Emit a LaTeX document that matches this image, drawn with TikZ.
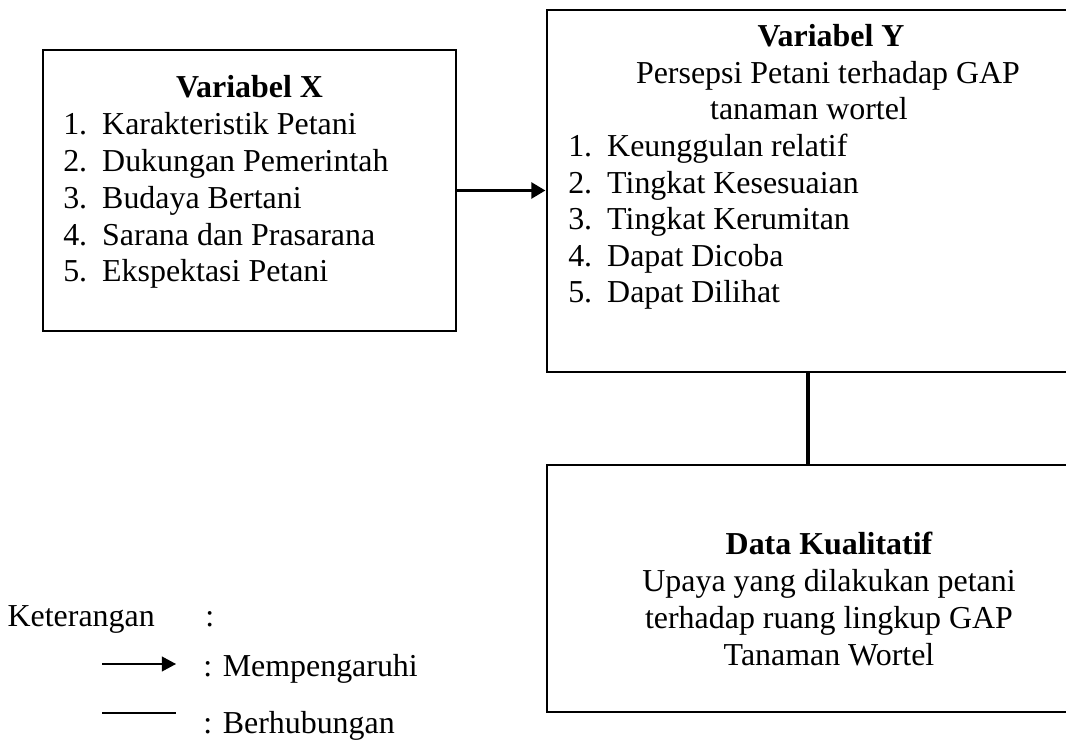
\documentclass[tikz,border=0pt]{standalone}
\usepackage{fontspec}
\setmainfont{Liberation Serif}
\usetikzlibrary{arrows.meta,positioning}
\newcommand{\numitem}[2]{\makebox[27.7pt][l]{#1}#2}

\begin{document}
\begin{tikzpicture}[x=0.025cm,y=-0.025cm,
    box/.style={draw,line width=2pt,inner sep=0pt},
    txt/.style={inner sep=0pt,font=\fontsize{22.7}{26.1}\selectfont},
    ttl/.style={inner sep=0pt,anchor=base,font=\fontsize{22.7}{26.1}\selectfont\bfseries},
    lst/.style={txt,anchor=base west}]
  \useasboundingbox (0,0) rectangle (1066,740);
  % boxes
  \node[box,minimum width=10.325cm,minimum height=7.025cm] (vx) at (249.5,190.5) {};
  \node[box,minimum width=13.05cm,minimum height=9.05cm]  (vy) at (808,191) {};
  \node[box,minimum width=13.05cm,minimum height=6.175cm] (dk) at (808,588.5) {};
  % Variabel X
  \node[ttl] (vxt) at (249.5,98) {Variabel X};
  \foreach \t [count=\i] in {Karakteristik Petani,Dukungan Pemerintah,Budaya Bertani,
      Sarana dan Prasarana,Ekspektasi Petani}
    \node[lst] (vx\i) at (63,{98+36.8*\i}) {\numitem{\i.}{\t}};
  % Variabel Y
  \node[ttl] (vyt) at (831,47) {Variabel Y};
  \node[txt,anchor=base] (vys1) at (828,84) {Persepsi Petani terhadap GAP};
  \node[txt,anchor=base] (vys2) at (809,120) {tanaman wortel};
  \foreach \t [count=\i] in {Keunggulan relatif,Tingkat Kesesuaian,Tingkat Kerumitan,
      Dapat Dicoba,Dapat Dilihat}
    \node[lst] (vy\i) at (568,{120+36.6*\i}) {\numitem{\i.}{\t}};
  % Data Kualitatif
  \node[ttl] (dkt) at (829,555) {Data Kualitatif};
  \node[txt,anchor=base] (dk1) at (829,592) {Upaya yang dilakukan petani};
  \node[txt,anchor=base] (dk2) at (829,628) {terhadap ruang lingkup GAP};
  \node[txt,anchor=base] (dk3) at (829,665) {Tanaman Wortel};
  % connectors
  \draw[line width=2.8pt,-{Triangle[length=10pt,width=11pt]}] (vx.east) -- (vx.east -| vy.west);
  \draw[line width=2.8pt] (vy.south) -- (dk.north);
  % legend
  \node[txt,anchor=base east] (ket) at (155,627) {Keterangan};
  \node[txt,anchor=base west] (ketc) at (205,627) {:};
  \coordinate (la) at (102,664);
  \coordinate (lb) at (176,664);
  \coordinate (lc) at (102,713);
  \coordinate (ld) at (176,713);
  \draw[line width=1pt,-{Triangle[length=10pt,width=10.5pt]}] (la) -- (lb);
  \draw[line width=1pt] (lc) -- (ld);
  \node[txt,anchor=base west] (lm) at (203,676) {: Mempengaruhi};
  \node[txt,anchor=base west] (lh) at (203,733) {: Berhubungan};
\end{tikzpicture}
\end{document}
